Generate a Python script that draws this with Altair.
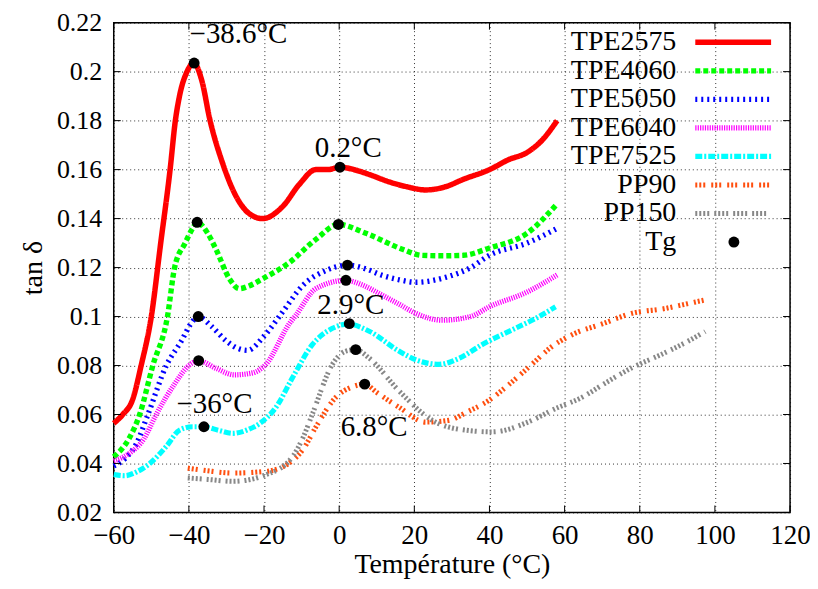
import altair as alt
import pandas as pd

# ---------------- data ----------------
series_names = ["TPE2575", "TPE4060", "TPE5050", "TPE6040", "TPE7525", "PP90", "PP150"]
series_colors = ["#ff0000", "#00ff00", "#0000ff", "#ff00ff", "#00ffff", "#ff4f0f", "#888888"]

t_2575 = [-60, -57.6, -55, -52.7, -50, -47.5, -45, -43.6, -42.5, -40.5, -38.7, -36.5, -34.5, -31, -27.4,
          -23.9, -20.4, -15, -10.6, -6.2, -3, 0.2, 4.4, 8, 13.3, 18, 23, 28.3, 33, 40, 45, 50, 54, 58]
v_2575 = [0.0564, 0.06, 0.066, 0.08, 0.1, 0.13, 0.16, 0.18, 0.19, 0.2, 0.2035, 0.196, 0.181, 0.1625, 0.149,
          0.142, 0.140, 0.145, 0.154, 0.160, 0.160, 0.161, 0.1598, 0.158, 0.155, 0.153, 0.1517, 0.153, 0.156,
          0.160, 0.164, 0.167, 0.172, 0.180]

t_4060 = [-60, -56, -53.1, -49.6, -45.7, -43.8, -41, -39, -37.8, -35, -32.8, -29.2, -26.6, -24, -20.4, -13.3,
          -6.2, -0.2, 7.1, 16.8, 22, 27.4, 33, 40, 50, 58]
v_4060 = [0.0427, 0.05, 0.06, 0.08, 0.1, 0.12, 0.13, 0.136, 0.1385, 0.134, 0.1275, 0.1154, 0.1114, 0.1125,
          0.1154, 0.122, 0.1315, 0.1376, 0.134, 0.1275, 0.125, 0.1248, 0.125, 0.128, 0.134, 0.146]

t_5050 = [-60, -57, -54, -50.9, -46, -42, -39.5, -37.5, -34, -30, -27, -24.4, -20, -15, -9.7, -3.5, 2.2, 7,
          11.5, 16, 20.4, 28.3, 35, 40, 50, 58]
v_5050 = [0.039, 0.042, 0.048, 0.06, 0.08, 0.09, 0.097, 0.100, 0.096, 0.09, 0.087, 0.0862, 0.092, 0.102,
          0.1127, 0.1188, 0.121, 0.1195, 0.1168, 0.115, 0.114, 0.116, 0.12, 0.125, 0.13, 0.136]

t_6040 = [-60, -56, -52, -48.7, -44, -40, -37.4, -33, -27.9, -23, -19.5, -13.3, -11.5, -6.2, 1.8, 6, 11.5,
          16, 20.4, 27.4, 35, 40, 50, 58]
v_6040 = [0.041, 0.044, 0.05, 0.06, 0.072, 0.08, 0.082, 0.079, 0.0762, 0.077, 0.0805, 0.097, 0.1006, 0.1114,
          0.1148, 0.113, 0.1087, 0.105, 0.1013, 0.0985, 0.1, 0.104, 0.11, 0.117]

t_7525 = [-60, -57, -54, -50.4, -46, -42.5, -39, -36.1, -32, -28.3, -24, -21.2, -16.8, -12.4, -7.1, -1.8,
          2.5, 8, 15.9, 21, 26.6, 32, 38.1, 46.9, 52, 57.6]
v_7525 = [0.0355, 0.035, 0.0365, 0.040, 0.047, 0.0536, 0.055, 0.055, 0.0535, 0.0523, 0.054, 0.0563, 0.063,
          0.0751, 0.0886, 0.0952, 0.0969, 0.094, 0.0859, 0.082, 0.0805, 0.083, 0.0886, 0.0952, 0.099, 0.104]

t_pp90 = [-40.3, -35, -28.3, -19.5, -13.3, -9.5, -6.2, -0.9, 3.5, 6.8, 10, 15.9, 23, 29.2, 34, 39.8, 45,
          51.3, 56, 62, 70, 77.9, 86.8, 92, 98]
v_pp90 = [0.0381, 0.037, 0.0361, 0.0368, 0.0402, 0.046, 0.0549, 0.067, 0.0713, 0.0724, 0.069, 0.063, 0.0569,
          0.0576, 0.061, 0.0657, 0.072, 0.0805, 0.087, 0.0926, 0.097, 0.1013, 0.1033, 0.105, 0.107]

t_pp150 = [-40.3, -35, -28.3, -19.5, -12.4, -9.5, -7.1, -1.8, 1.8, 4.4, 8, 15.9, 24.8, 33.6, 40.7, 51.3, 57,
           64.6, 71, 77.9, 85, 91.2, 97.4]
v_pp150 = [0.0341, 0.0335, 0.0327, 0.0354, 0.0428, 0.051, 0.0603, 0.0805, 0.0859, 0.0865, 0.083, 0.0697,
           0.0576, 0.0536, 0.0529, 0.0576, 0.062, 0.067, 0.073, 0.0791, 0.084, 0.0886, 0.0939]

tg_t = [-38.6, 0.2, -37.8, -0.2, -37.5, 2.2, -37.4, 1.8, -36.0, 2.7, 4.4, 6.8]
tg_v = [0.2035, 0.161, 0.1385, 0.1376, 0.100, 0.121, 0.082, 0.1148, 0.055, 0.0971, 0.0865, 0.0724]

ann_text = ["\u221238.6\u00b0C", "0.2\u00b0C", "2.9\u00b0C", "\u221236\u00b0C", "6.8\u00b0C"]
ann_t = [-26.8, 2.4, 3.1, -33.2, 9.3]
ann_v = [0.2115, 0.1650, 0.1009, 0.0608, 0.0514]

x_ticks = [-60, -40, -20, 0, 20, 40, 60, 80, 100, 120]
y_ticks = [0.02, 0.04, 0.06, 0.08, 0.1, 0.12, 0.14, 0.16, 0.18, 0.2, 0.22]

# ---------------- tables ----------------
all_t = [t_2575, t_4060, t_5050, t_6040, t_7525, t_pp90, t_pp150]
all_v = [v_2575, v_4060, v_5050, v_6040, v_7525, v_pp90, v_pp150]
rows = []
for name, ts, vs in zip(series_names, all_t, all_v):
    for i, (t, v) in enumerate(zip(ts, vs)):
        rows.append({"series": name, "T": t, "v": v, "ord": i})
df = pd.DataFrame(rows)
df_tg = pd.DataFrame({"T": tg_t, "v": tg_v})
df_ann = pd.DataFrame({"T": ann_t, "v": ann_v, "label": ann_text})

W, H = 678, 491
ROW0, ROWSTEP = 19.7, 28.6
df_leg = pd.DataFrame({"series": series_names,
                       "ly": [ROW0 + ROWSTEP * i for i in range(len(series_names))]})
df_leg_tg = pd.DataFrame({"label": ["Tg"], "ly": [ROW0 + ROWSTEP * len(series_names)]})
df_xt = pd.DataFrame({"T": x_ticks})
df_yt = pd.DataFrame({"v": y_ticks})

FONT = "Liberation Serif"
xscale = alt.Scale(domain=[-60, 120], nice=False, zero=False)
yscale = alt.Scale(domain=[0.02, 0.22], nice=False, zero=False)
color_scale = alt.Scale(domain=series_names, range=series_colors)
dash_scale = alt.Scale(domain=series_names,
                       range=[[1, 0], [5, 3], [2, 4], [1.2, 1.2], [7, 2, 2, 2],
                              [2, 2, 2, 2, 2, 6], [2, 2, 2, 2, 2, 2, 2, 5]])
width_scale = alt.Scale(domain=series_names, range=[5.5, 5, 4.5, 4.5, 5, 4, 4])

x_enc = alt.X("T:Q", scale=xscale,
              axis=alt.Axis(values=x_ticks, title="Température (°C)", format="d",
                            labelFlush=False, labelOverlap=False,
                            labelPadding=10, titlePadding=2))
y_enc = alt.Y("v:Q", scale=yscale,
              axis=alt.Axis(values=y_ticks, format=".2~f", title="tan δ",
                            labelFlush=False, labelOverlap=False, labelFontSize=26,
                            labelPadding=12, titlePadding=9))

lines = alt.Chart(df).mark_line(interpolate="monotone", strokeCap="butt", strokeJoin="round").encode(
    x=x_enc, y=y_enc,
    color=alt.Color("series:N", scale=color_scale, legend=None),
    strokeDash=alt.StrokeDash("series:N", scale=dash_scale, legend=None),
    strokeWidth=alt.StrokeWidth("series:N", scale=width_scale, legend=None),
    detail="series:N",
    order="ord:Q",
)

points = alt.Chart(df_tg).mark_point(filled=True, size=120, color="black", opacity=1).encode(
    x=alt.X("T:Q", scale=xscale), y=alt.Y("v:Q", scale=yscale))

ann = alt.Chart(df_ann).mark_text(font=FONT, fontSize=29, align="center", baseline="alphabetic",
                                  color="black").encode(
    x=alt.X("T:Q", scale=xscale), y=alt.Y("v:Q", scale=yscale), text="label:N")

# inward ticks on all four sides
tk = 7
xt_bot = alt.Chart(df_xt).mark_rule(color="black", strokeWidth=1).encode(
    x=alt.X("T:Q", scale=xscale), y=alt.value(H), y2=alt.value(H - tk))
xt_top = alt.Chart(df_xt).mark_rule(color="black", strokeWidth=1).encode(
    x=alt.X("T:Q", scale=xscale), y=alt.value(0), y2=alt.value(tk))
yt_left = alt.Chart(df_yt).mark_rule(color="black", strokeWidth=1).encode(
    y=alt.Y("v:Q", scale=yscale), x=alt.value(0), x2=alt.value(tk))
yt_right = alt.Chart(df_yt).mark_rule(color="black", strokeWidth=1).encode(
    y=alt.Y("v:Q", scale=yscale), x=alt.value(W), x2=alt.value(W - tk))

# legend drawn in gnuplot style (label left, sample right)
leg_lines = alt.Chart(df_leg).mark_rule(strokeCap="butt").encode(
    x=alt.value(583), x2=alt.value(659), y=alt.Y("ly:Q", scale=None),
    color=alt.Color("series:N", scale=color_scale, legend=None),
    strokeDash=alt.StrokeDash("series:N", scale=dash_scale, legend=None),
    strokeWidth=alt.StrokeWidth("series:N", scale=width_scale, legend=None),
)
leg_text = alt.Chart(df_leg).mark_text(font=FONT, fontSize=28, align="right", baseline="middle",
                                       color="black").encode(
    x=alt.value(564), y=alt.Y("ly:Q", scale=None), text="series:N")
leg_tg_text = alt.Chart(df_leg_tg).mark_text(font=FONT, fontSize=28, align="right", baseline="middle",
                                             color="black").encode(
    x=alt.value(564), y=alt.Y("ly:Q", scale=None), text="label:N")
leg_tg_pt = alt.Chart(df_leg_tg).mark_point(filled=True, size=120, color="black", opacity=1).encode(
    x=alt.value(621.7), y=alt.Y("ly:Q", scale=None))

chart = alt.layer(
    lines, points, ann, xt_bot, xt_top, yt_left, yt_right,
    leg_lines, leg_text, leg_tg_text, leg_tg_pt,
).properties(
    width=W, height=H,
    background="white",
    autosize=alt.AutoSizeParams(type="none"),
    padding={"left": 106, "top": 14, "right": 20, "bottom": 68},
).configure_view(
    stroke="black", strokeWidth=1.5
).configure_axis(
    grid=True, gridColor="#000000", gridDash=[1, 3], gridOpacity=0.8, gridWidth=1,
    domain=False, ticks=False,
    labelFont=FONT, labelFontSize=27, labelColor="black",
    titleFont=FONT, titleFontSize=28, titleFontWeight="normal", titleColor="black",
)

chart.save("out.html", embed_options={"renderer": "svg", "actions": False})
